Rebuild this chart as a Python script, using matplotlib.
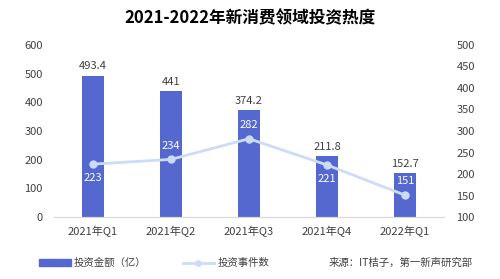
import matplotlib.pyplot as plt
import numpy as np
from matplotlib.lines import Line2D
from matplotlib.patches import Patch

plt.rcParams['font.family'] = ['Noto Sans CJK SC', 'DejaVu Sans']

# data
quarters = ["2021年Q1", "2021年Q2", "2021年Q3", "2021年Q4", "2022年Q1"]
amount = [493.4, 441, 374.2, 211.8, 152.7]
events = [223, 234, 282, 221, 151]
event_label_pos = ["below", "above", "above", "below", "above"]

BAR_COLOR = "#5468D0"
LINE_COLOR = "#CCDCF8"
TEXT_COLOR = "#404040"

fig = plt.figure(figsize=(5, 2.79), dpi=100)
ax = fig.add_axes([0.108, 0.222, 0.78, 0.617])
ax2 = ax.twinx()

x = np.arange(len(quarters))
ax.bar(x, amount, width=0.28, color=BAR_COLOR, zorder=2)
for xi, v in zip(x, amount):
    ax.text(xi, v + 14, f"{v:g}", ha="center", va="bottom", fontsize=8, color=TEXT_COLOR)

ax.set_xlim(-0.5, len(quarters) - 0.5)
ax.set_ylim(0, 600)
ax.set_yticks(range(0, 601, 100))
ax.set_xticks(x)
ax.set_xticklabels(quarters)

ax2.plot(x, events, color=LINE_COLOR, lw=2, marker="o", ms=5, zorder=3)
for xi, v, pos in zip(x, events, event_label_pos):
    dy = -10 if pos == "below" else 10
    ax2.annotate(str(v), (xi, v), xytext=(0, dy), textcoords="offset points",
                 ha="center", va="center", fontsize=8, color="white")
ax2.set_ylim(100, 500)
ax2.set_yticks(range(100, 501, 50))

for a in (ax, ax2):
    for s in ["top", "left", "right"]:
        a.spines[s].set_visible(False)
    a.spines["bottom"].set_color("#D9D9D9")
    a.tick_params(length=0, labelsize=8, colors=TEXT_COLOR)
ax.tick_params(axis="y", pad=8)
ax2.tick_params(axis="y", pad=9)
ax.tick_params(axis="x", pad=6)

ax.set_zorder(ax2.get_zorder() - 1)
ax.patch.set_visible(False)

fig.text(0.5, 0.935, "2021-2022年新消费领域投资热度", ha="center", va="center",
         fontsize=12, fontweight="bold", color="black")

handles = [Patch(color=BAR_COLOR),
           Line2D([0], [0], color=LINE_COLOR, lw=2, marker="o", ms=4)]
fig.legend(handles, ["投资金额（亿）", "投资事件数"], loc="center left",
           bbox_to_anchor=(0.06, 0.057), ncol=2, frameon=False, fontsize=7.5,
           handlelength=3, columnspacing=3.5, handletextpad=0.3,
           labelcolor=TEXT_COLOR)
fig.text(0.945, 0.057, "来源：IT桔子，第一新声研究部", ha="right", va="center",
         fontsize=7.5, color=TEXT_COLOR)

fig.savefig("out.png", dpi=100, facecolor="white")
